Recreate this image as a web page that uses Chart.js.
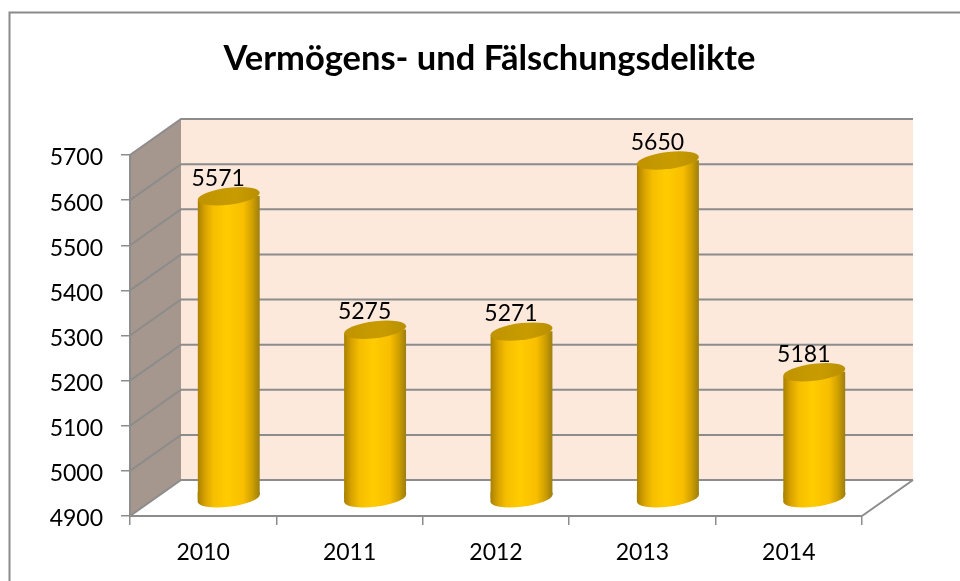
<!DOCTYPE html>
<html>
<head>
<meta charset="utf-8">
<title>Vermögens- und Fälschungsdelikte</title>
<script src="https://cdn.jsdelivr.net/npm/chart.js"></script>
<style>
  html, body { margin: 0; padding: 0; background: #fff; }
  canvas { display: block; }
</style>
</head>
<body>
<canvas id="chart" width="960" height="581"></canvas>
<script>
  var titleText = 'Vermögens- und Fälschungsdelikte';
  var years = ['2010', '2011', '2012', '2013', '2014'];
  var cases = [5571, 5275, 5271, 5650, 5181];
  var yMin = 4900;
  var yMax = 5700;
  var yStep = 100;

  // fake 3d: how far the back wall sits from the front axes
  var depthX = 51;
  var depthY = -36;
  var barDx = 25.5;
  var barDy = -17;
  var barWidth = 62;
  var capRy = 8.5;
  var capTilt = 3.5;
  var gridColor = '#8c8c8c';
  var fontName = 'Lato, "Open Sans", sans-serif';

  function barGradient(c, cx) {
    var g = c.createLinearGradient(cx - barWidth / 2, 0, cx + barWidth / 2, 0);
    g.addColorStop(0, '#a88000');
    g.addColorStop(0.12, '#d9a300');
    g.addColorStop(0.25, '#f5be00');
    g.addColorStop(0.47, '#ffcc00');
    g.addColorStop(0.74, '#f8be00');
    g.addColorStop(0.88, '#d0a000');
    g.addColorStop(1, '#9c7e10');
    return g;
  }

  // sheared ellipse, so its ends run into the straight sides of the bar
  function capPath(c, cx, cy) {
    var half = barWidth / 2;
    c.save();
    c.transform(1, -capTilt / half, 0, 1, cx, cy);
    c.beginPath();
    c.ellipse(0, 0, half, capRy, 0, 0, Math.PI * 2);
    c.restore();
  }

  var wallsPlugin = {
    id: 'walls',
    beforeDraw: function(chart) {
      var c = chart.ctx;
      var area = chart.chartArea;
      var y = chart.scales.y;
      var L = area.left, R = area.right, T = area.top, B = area.bottom;

      c.save();
      // outer frame, runs off the page on the right and at the bottom
      c.strokeStyle = '#8a8a8a';
      c.lineWidth = 2;
      c.beginPath();
      c.moveTo(9.5, 581);
      c.lineTo(9.5, 12.5);
      c.lineTo(960, 12.5);
      c.stroke();

      c.fillStyle = '#fde9dc';
      c.fillRect(L + depthX, T + depthY, R - L, B - T);

      c.fillStyle = '#a5978d';
      c.beginPath();
      c.moveTo(L, T);
      c.lineTo(L + depthX, T + depthY);
      c.lineTo(L + depthX, B + depthY);
      c.lineTo(L, B);
      c.closePath();
      c.fill();

      c.strokeStyle = gridColor;
      c.lineWidth = 2;
      for (var v = yMin; v <= yMax; v += yStep) {
        var py = y.getPixelForValue(v);
        c.beginPath();
        c.moveTo(L, py);
        c.lineTo(L + depthX, py + depthY);
        c.lineTo(R + depthX, py + depthY);
        c.stroke();
      }
      c.beginPath();
      c.moveTo(R + depthX, B + depthY);
      c.lineTo(R, B);
      c.stroke();
      c.restore();
    },
    beforeDatasetsDraw: function(chart) {
      var c = chart.ctx;
      var bars = chart.getDatasetMeta(0).data;
      var half = barWidth / 2;
      c.save();
      c.translate(barDx, barDy);

      bars.forEach(function(bar) {
        c.fillStyle = barGradient(c, bar.x);
        capPath(c, bar.x, bar.base);
        c.fill();
        c.beginPath();
        c.moveTo(bar.x - half, bar.base - 6);
        c.lineTo(bar.x + half, bar.base - 6);
        c.lineTo(bar.x + half, bar.base - capTilt);
        c.lineTo(bar.x - half, bar.base + capTilt);
        c.closePath();
        c.fill();
      });

      // cut both ends of the bars on the tilt of the caps
      c.beginPath();
      bars.forEach(function(bar) {
        c.moveTo(bar.x - half, bar.y + capTilt);
        c.lineTo(bar.x + half, bar.y - capTilt);
        c.lineTo(bar.x + half, bar.base - capTilt);
        c.lineTo(bar.x - half, bar.base + capTilt);
        c.closePath();
      });
      c.clip();
    },
    afterDatasetsDraw: function(chart) {
      var c = chart.ctx;
      var bars = chart.getDatasetMeta(0).data;
      c.restore();

      c.save();
      c.translate(barDx, barDy);
      bars.forEach(function(bar, i) {
        var g = c.createLinearGradient(bar.x - barWidth / 2, 0, bar.x + barWidth / 2, 0);
        g.addColorStop(0, '#c09300');
        g.addColorStop(0.6, '#c89c00');
        g.addColorStop(1, '#b98f00');
        c.fillStyle = g;
        capPath(c, bar.x, bar.y);
        c.fill();

        c.fillStyle = '#000';
        c.font = '23px ' + fontName;
        c.textAlign = 'center';
        c.textBaseline = 'middle';
        c.fillText(String(cases[i]), bar.x - 10.5, bar.y - 18);
      });
      c.restore();
    }
  };

  new Chart(document.getElementById('chart'), {
    type: 'bar',
    data: {
      labels: years,
      datasets: [{
        data: cases,
        base: yMin,
        yAxisID: 'y',
        barThickness: barWidth,
        borderWidth: 0,
        clip: false,
        backgroundColor: function(ctx) {
          if (!ctx.chart.chartArea) {
            return '#ffc000';
          }
          var cx = ctx.chart.scales.x.getPixelForValue(ctx.dataIndex);
          return barGradient(ctx.chart.ctx, cx);
        }
      }]
    },
    options: {
      responsive: false,
      animation: false,
      layout: { padding: { left: 19, right: 0, top: 0, bottom: 0 } },
      plugins: {
        legend: { display: false },
        tooltip: { enabled: false },
        title: {
          display: true,
          text: titleText,
          color: '#000',
          font: { family: fontName, size: 34.5, weight: 'bold', lineHeight: 1.2 },
          padding: { top: 38.3, bottom: 75.3 }
        }
      },
      scales: {
        x: {
          offset: true,
          afterFit: function(scale) { scale.height = 65; },
          grid: {
            offset: true,
            drawOnChartArea: false,
            color: gridColor,
            lineWidth: 1.5,
            tickLength: 9
          },
          border: { color: gridColor, width: 2 },
          ticks: {
            color: '#000',
            padding: 14,
            maxRotation: 0,
            font: { family: fontName, size: 23 }
          }
        },
        y: {
          min: yMin,
          max: yMax,
          afterFit: function(scale) { scale.width = 111; },
          grid: {
            drawOnChartArea: false,
            color: gridColor,
            lineWidth: 1.5,
            tickLength: 9
          },
          border: { color: gridColor, width: 2 },
          ticks: {
            stepSize: yStep,
            color: '#000',
            padding: 18,
            labelOffset: 3,
            font: { family: fontName, size: 23 },
            callback: function(value) { return String(value); }
          }
        },
        // empty scale, only keeps the room on the right so the title centres like the original
        spacer: {
          position: 'right',
          min: yMin,
          max: yMax,
          afterFit: function(scale) { scale.width = 98; },
          grid: { display: false },
          border: { display: false },
          ticks: { display: false }
        }
      }
    },
    plugins: [wallsPlugin]
  });
</script>
</body>
</html>
